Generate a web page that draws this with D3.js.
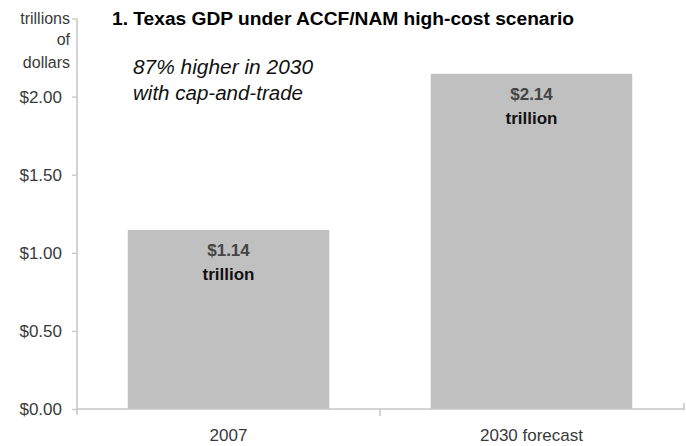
<!DOCTYPE html>
<html>
<head>
<meta charset="utf-8">
<script src="https://cdn.jsdelivr.net/npm/d3@7/dist/d3.min.js"></script>
<style>
  html, body { margin: 0; padding: 0; background: #fff; }
  svg { display: block; }
</style>
</head>
<body>
<svg id="chart" width="686" height="446"></svg>
<script>
const categories = ["2007", "2030 forecast"];
const values = [1.146, 2.146];
const valueLabels = ["$1.14", "$2.14"];
const tickValues = [0, 0.5, 1.0, 1.5, 2.0, 2.5];
const tickLabels = ["$0.00", "$0.50", "$1.00", "$1.50", "$2.00", "trillions"];
const unitLines = ["of", "dollars"];
const title = "1. Texas GDP under ACCF/NAM high-cost scenario";
const note = ["87% higher in 2030", "with cap-and-trade"];
const noteWidths = [180, 170];

const svg = d3.select("#chart");
const font = "'Liberation Sans', Arial, sans-serif";
const axisColor = "#c6c6c6";
const textColor = "#3a3a3a";

const x0 = 77, x1 = 683, yTop = 18.5, yBottom = 409;
const y = d3.scaleLinear().domain([0, 2.5]).range([yBottom, yTop]);
const x = d3.scaleBand().domain(categories).range([x0, x1]).padding(0);
const barW = x.bandwidth() * 0.665;

// bars
svg.selectAll("rect.bar").data(values).join("rect")
  .attr("class", "bar")
  .attr("x", (d, i) => x(categories[i]) + (x.bandwidth() - barW) / 2)
  .attr("y", d => y(d))
  .attr("width", barW)
  .attr("height", d => y(0) - y(d))
  .attr("fill", "#c0c0c0");

// y axis
const yAxis = d3.axisLeft(y).tickValues(tickValues)
  .tickFormat((d, i) => tickLabels[i]).tickSize(5).tickPadding(10);
const gy = svg.append("g").attr("transform", `translate(${x0},0)`).call(yAxis);
gy.select(".domain").remove();
gy.selectAll(".tick line").attr("stroke", axisColor).attr("stroke-width", 1.3);
gy.selectAll(".tick text").attr("font-family", font).attr("font-size", 17)
  .attr("fill", textColor);
gy.selectAll(".tick").filter(d => d === 2.5).select("text").attr("x", -7).attr("font-size", 16);
svg.append("line").attr("x1", x0).attr("x2", x0).attr("y1", yTop).attr("y2", yBottom + 6)
  .attr("stroke", axisColor).attr("stroke-width", 1.5);

// unit lines
svg.selectAll("text.unit").data(unitLines).join("text")
  .attr("class", "unit")
  .attr("x", x0 - 7).attr("y", (d, i) => 45 + 23 * i)
  .attr("text-anchor", "end").attr("font-family", font).attr("font-size", 16)
  .attr("fill", textColor).text(d => d);

// x axis
svg.append("line").attr("x1", x0).attr("x2", x1 + 2).attr("y1", yBottom).attr("y2", yBottom)
  .attr("stroke", axisColor).attr("stroke-width", 1.5);
const boundaries = [x(categories[1]), x1 + 1];
svg.selectAll("line.xt").data(boundaries).join("line")
  .attr("class", "xt")
  .attr("x1", d => d).attr("x2", d => d)
  .attr("y1", (d, i) => i ? yBottom - 6 : yBottom)
  .attr("y2", (d, i) => i ? yBottom : yBottom + 7)
  .attr("stroke", axisColor).attr("stroke-width", 1.5);
svg.selectAll("text.xl").data(categories).join("text")
  .attr("class", "xl")
  .attr("x", d => x(d) + x.bandwidth() / 2)
  .attr("y", 441)
  .attr("text-anchor", "middle").attr("font-family", font).attr("font-size", 17)
  .attr("fill", textColor).text(d => d);

// value labels
const lab = svg.selectAll("g.vl").data(values).join("g").attr("class", "vl")
  .attr("transform", (d, i) => `translate(${x(categories[i]) + x.bandwidth() / 2},${y(d)})`);
lab.append("text").attr("y", 26).attr("text-anchor", "middle")
  .attr("font-family", font).attr("font-size", 17).attr("font-weight", "bold")
  .attr("fill", "#444").text((d, i) => valueLabels[i]);
lab.append("text").attr("y", 50).attr("text-anchor", "middle")
  .attr("font-family", font).attr("font-size", 17).attr("font-weight", "bold")
  .attr("fill", "#111").text("trillion");

// title
svg.append("text").attr("x", 112).attr("y", 25)
  .attr("font-family", font).attr("font-size", 18).attr("font-weight", "bold")
  .attr("fill", "#000").attr("textLength", 462).attr("lengthAdjust", "spacingAndGlyphs")
  .text(title);

// annotation
svg.selectAll("text.note").data(note).join("text")
  .attr("class", "note")
  .attr("x", 133).attr("y", (d, i) => 74 + 26 * i)
  .attr("font-family", font).attr("font-size", 20).attr("font-style", "italic")
  .attr("fill", "#111")
  .attr("textLength", (d, i) => noteWidths[i]).attr("lengthAdjust", "spacingAndGlyphs")
  .text(d => d);
</script>
</body>
</html>
